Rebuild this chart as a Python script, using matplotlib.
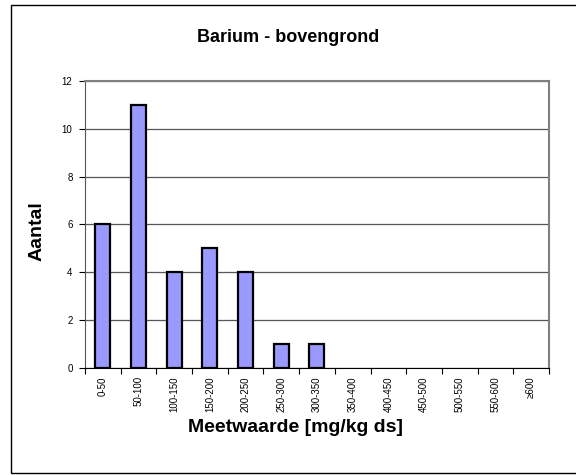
import numpy as np
import matplotlib.pyplot as plt
from matplotlib.patches import Rectangle

plt.rcParams['font.family'] = ['Liberation Sans', 'DejaVu Sans']

# Klassen en aantallen
klassen = ['0-50', '50-100', '100-150', '150-200', '200-250', '250-300', '300-350',
           '350-400', '400-450', '450-500', '500-550', '550-600', '≥600']
aantal = [6, 11, 4, 5, 4, 1, 1, 0, 0, 0, 0, 0, 0]
y_ticks = [0, 2, 4, 6, 8, 10, 12]

fig = plt.figure(figsize=(5.76, 4.75), dpi=100)
ax = fig.add_axes([0.1476, 0.2253, 0.953 - 0.1476, 0.8295 - 0.2253])

# kader rond de hele grafiek
fig.patches.append(Rectangle((11 / 576, 2 / 475), 1.0, 468 / 475, transform=fig.transFigure,
                             fill=False, edgecolor='black', linewidth=1.0))

x = np.arange(len(klassen))
# lege klassen zonder rand tekenen
randen = [1.6 if a > 0 else 0 for a in aantal]
ax.bar(x, aantal, width=0.42, color='#9999ff', edgecolor='black', linewidth=randen, zorder=3)

ax.set_xlim(-0.5, len(klassen) - 0.5)
ax.set_ylim(0, 12)
ax.set_yticks(y_ticks)
ax.set_yticklabels([str(v) for v in y_ticks], fontsize=7)
ax.yaxis.grid(True, color='#555555', linewidth=0.9, zorder=0)

ax.set_xticks(x)
ax.set_xticklabels(klassen, rotation=90, fontsize=7)
ax.tick_params(axis='x', which='major', length=0, pad=6)
ax.set_xticks(np.arange(-0.5, len(klassen), 1.0), minor=True)
ax.tick_params(axis='x', which='minor', length=4, width=0.8)
ax.tick_params(axis='y', length=4, width=0.8, pad=5)

for side in ['top', 'right']:
    ax.spines[side].set_color('#808080')
    ax.spines[side].set_linewidth(1.5)
ax.spines['left'].set_color('#555555')
ax.spines['bottom'].set_color('black')

fig.text(288 / 576, 1 - 38 / 475, 'Barium - bovengrond', fontsize=13, fontweight='bold',
         ha='center', va='center')
fig.text(296 / 576, 1 - 427 / 475, 'Meetwaarde [mg/kg ds]', fontsize=14, fontweight='bold',
         ha='center', va='center')
fig.text(37 / 576, 1 - 231 / 475, 'Aantal', fontsize=14, fontweight='bold',
         ha='center', va='center', rotation=90)

fig.savefig('out.png', dpi=100)
